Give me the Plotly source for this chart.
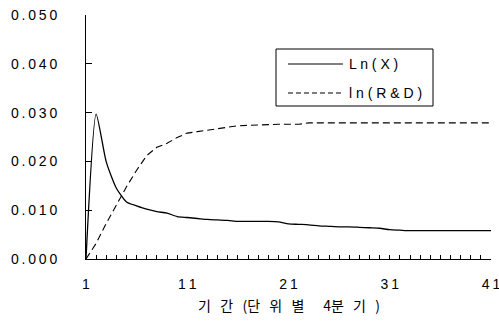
import plotly.graph_objects as go

# ---- data ----
period = list(range(1, 42))
ln_x = [0.0, 0.0297, 0.0199, 0.0145, 0.0117, 0.0109, 0.0102, 0.0097, 0.0094, 0.0087,
        0.0085, 0.0083, 0.0081, 0.0080, 0.0079, 0.0077, 0.0077, 0.0077, 0.0077, 0.0076,
        0.0072, 0.0071, 0.0070, 0.0068, 0.0067, 0.0066, 0.0066, 0.0065, 0.0064, 0.0063,
        0.0060, 0.0059, 0.0058, 0.0058, 0.0058, 0.0058, 0.0058, 0.0058, 0.0058, 0.0058,
        0.0058]
ln_rd = [0.0, 0.0032, 0.0073, 0.0111, 0.0148, 0.0182, 0.0212, 0.0229, 0.0237, 0.0249,
         0.0258, 0.0261, 0.0264, 0.0268, 0.0270, 0.0273, 0.0274, 0.0275, 0.0276, 0.0276,
         0.0276, 0.0276, 0.0279, 0.0279, 0.0279, 0.0279, 0.0279, 0.0279, 0.0279, 0.0279,
         0.0279, 0.0279, 0.0279, 0.0279, 0.0279, 0.0279, 0.0279, 0.0279, 0.0279, 0.0279,
         0.0279]
x_ticks = [1, 11, 21, 31, 41]
y_ticks = [0.0, 0.01, 0.02, 0.03, 0.04, 0.05]
series_names = ["Ln(X)", "ln(R&D)"]
x_title = "기 간 (단 위 별  4분 기 )"


def spaced(s, sep="\u2009"):
    return sep.join(list(s))


W, H = 499, 324
ML, MR, MT, MB = 86, 8, 15, 65
PW, PH = W - ML - MR, H - MT - MB


def px(xp):
    return (xp - ML) / PW


def py(yp):
    return (H - MB - yp) / PH


FONT = "Liberation Sans, Arial, sans-serif"

fig = go.Figure()
fig.add_trace(go.Scatter(x=period, y=ln_x, mode="lines", name=series_names[0],
                         line=dict(color="black", width=1.3, shape="spline", smoothing=0.6),
                         showlegend=False))
fig.add_trace(go.Scatter(x=period, y=ln_rd, mode="lines", name=series_names[1],
                         line=dict(color="black", width=1.1, dash="7px,4px"),
                         showlegend=False))

# legend (drawn manually)
shapes = [
    dict(type="rect", xref="paper", yref="paper", x0=px(276), x1=px(433), y0=py(106), y1=py(49),
         line=dict(color="black", width=1), fillcolor="white", layer="above"),
    dict(type="line", xref="paper", yref="paper", x0=px(288), x1=px(343), y0=py(64), y1=py(64),
         line=dict(color="black", width=1.2)),
    dict(type="line", xref="paper", yref="paper", x0=px(288), x1=px(343), y0=py(93), y1=py(93),
         line=dict(color="black", width=1.1, dash="5px,3px")),
]
annotations = [
    dict(xref="paper", yref="paper", x=px(347), y=py(64), text=spaced(series_names[0], " "),
         showarrow=False, xanchor="left", yanchor="middle",
         font=dict(family=FONT, size=14, color="black")),
    dict(xref="paper", yref="paper", x=px(347), y=py(93), text=spaced(series_names[1], " "),
         showarrow=False, xanchor="left", yanchor="middle",
         font=dict(family=FONT, size=14, color="black")),
    dict(xref="paper", yref="paper", x=0.5, y=py(305),
         text=x_title.replace(" ", "\u2002\u2006"),
         showarrow=False, xanchor="center", yanchor="middle",
         font=dict(family="Noto Sans CJK KR, sans-serif", size=14, color="black")),
]

fig.update_layout(
    width=W, height=H,
    margin=dict(l=ML, r=MR, t=MT, b=MB, autoexpand=False),
    paper_bgcolor="white", plot_bgcolor="white",
    shapes=shapes, annotations=annotations,
    showlegend=False,
    xaxis=dict(range=[1, 41], tickvals=x_ticks, ticktext=[spaced(str(v)) for v in x_ticks],
               ticks="inside", ticklen=4, tickcolor="black", tickwidth=1, automargin=False,
               showline=True, linecolor="black", linewidth=1, showgrid=False, zeroline=False,
               tickfont=dict(family=FONT, size=14, color="black"), ticklabelstandoff=12,
               ticklabeloverflow="allow",
               minor=dict(dtick=1, tick0=1, ticks="inside", ticklen=4, tickcolor="black",
                          showgrid=False)),
    yaxis=dict(range=[0, 0.05], tickvals=y_ticks,
               ticktext=[spaced(f"{v:.3f}") for v in y_ticks], automargin=False,
               ticks="inside", ticklen=6, tickcolor="black", tickwidth=1,
               showline=True, linecolor="black", linewidth=1, showgrid=False, zeroline=False,
               tickfont=dict(family=FONT, size=14, color="black"), ticklabelstandoff=25),
)

fig.write_html("out.html")
